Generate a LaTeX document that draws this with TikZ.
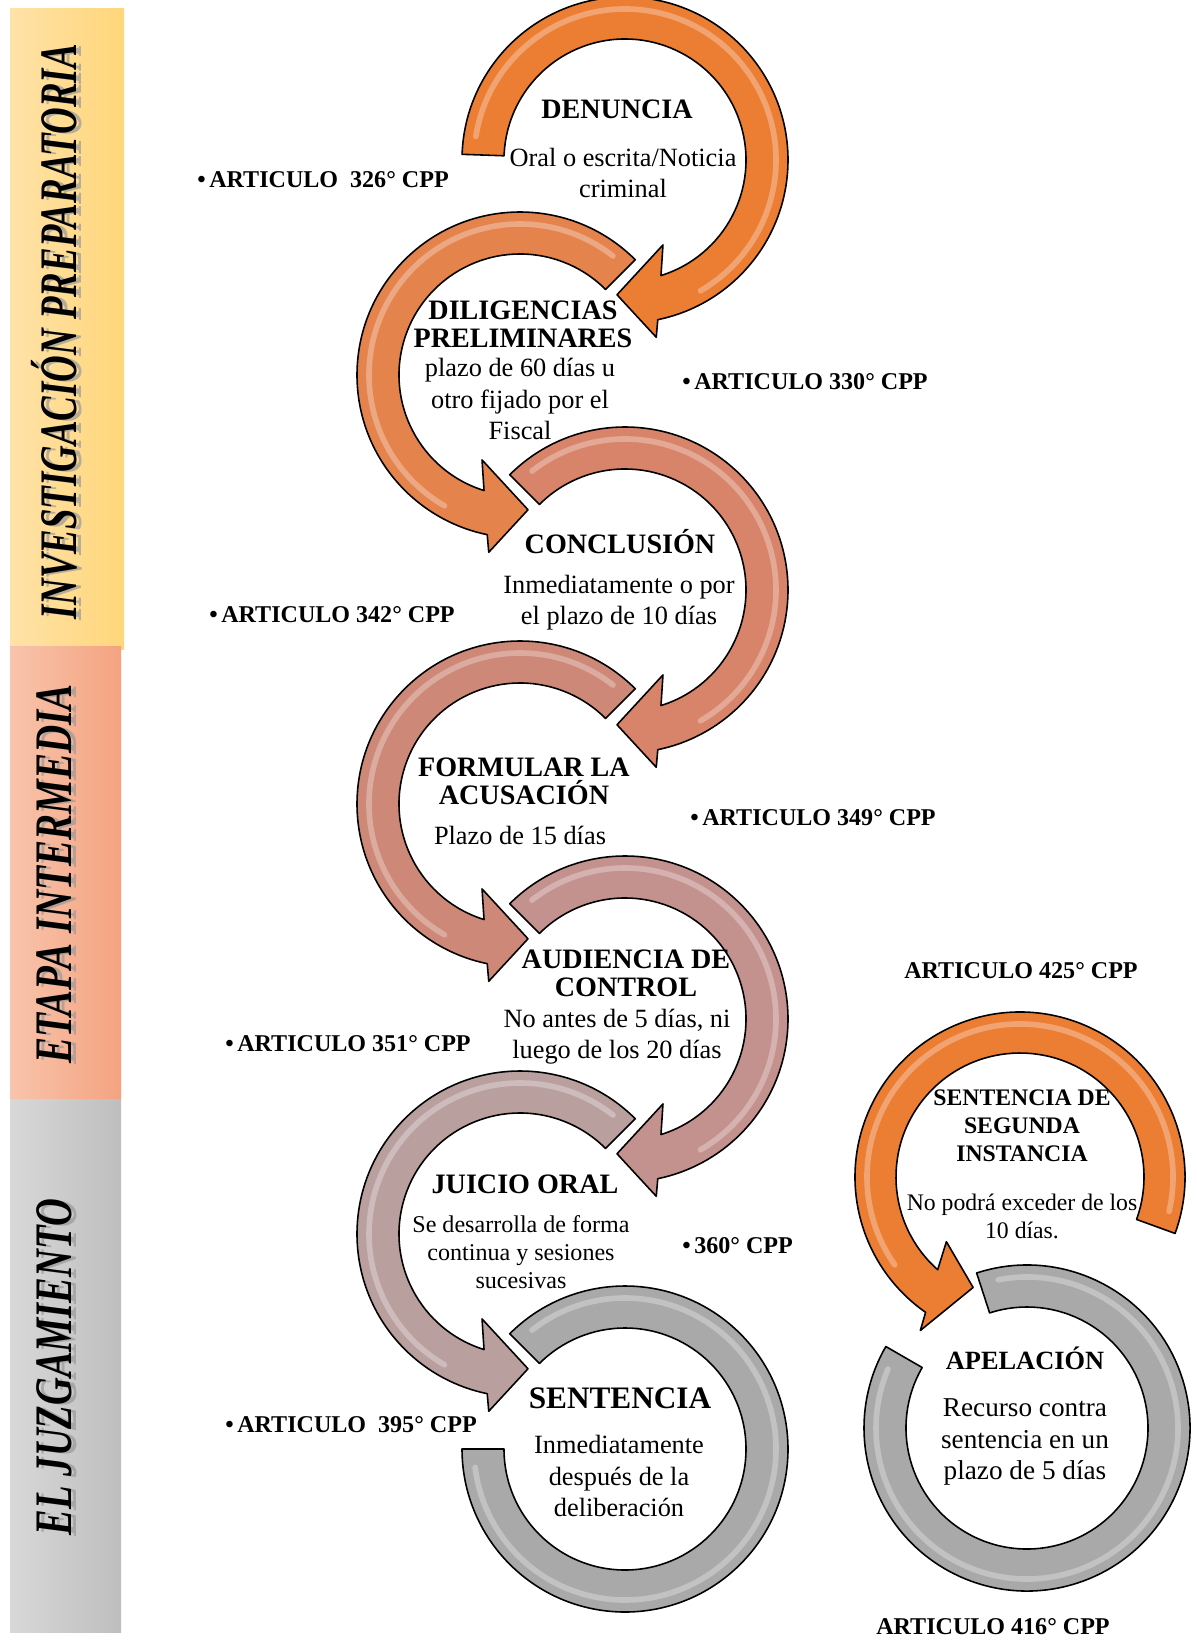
\documentclass[tikz,border=0pt]{standalone}
\usepackage{fontspec}
\setmainfont{Liberation Serif}
\usepackage{graphicx}
\usepackage{xcolor}
\usepackage{tikz}
\usetikzlibrary{calc}

\definecolor{ringA}{HTML}{EC7E34}
\definecolor{ringB}{HTML}{E4834C}
\definecolor{ringC}{HTML}{D8846A}
\definecolor{ringD}{HTML}{CD8877}
\definecolor{ringE}{HTML}{C4928E}
\definecolor{ringF}{HTML}{BA9F9F}
\definecolor{ringG}{HTML}{A9A9A9}
\definecolor{barYellowL}{HTML}{FFE2A8}
\definecolor{barYellowR}{HTML}{FFD67A}
\definecolor{barPinkL}{HTML}{F8C4AC}
\definecolor{barPinkR}{HTML}{F4A380}
\definecolor{barGrayL}{HTML}{D8D8D8}
\definecolor{barGrayR}{HTML}{BEBEBE}

% ring with arrow head, drawn round (0,0): #1 start angle, #2 fill
\newcommand{\ringarrow}[2]{%
  \draw[ringline,fill=#2] (#1:163) arc[start angle=#1,end angle=438.4,radius=163]
    -- (440:180) -- (453.4:135) -- (425.9:93) -- (432.7:121)
    arc[start angle=432.7,end angle=#1,radius=121] -- cycle;
  \draw[gloss] (#1+7:151) arc[start angle=#1+7,end angle=420,radius=151];
}
% plain ring: #1 start angle, #2 end angle, #3 fill
\newcommand{\ringplain}[3]{%
  \draw[ringline,fill=#3] (#1:163) arc[start angle=#1,end angle=#2,radius=163]
    -- (#2:121) arc[start angle=#2,end angle=#1,radius=121] -- cycle;
  \draw[gloss] (#1+7:151) arc[start angle=#1+7,end angle=#2-7,radius=151];
}

\begin{document}
\begin{tikzpicture}[
  x=0.02cm,y=-0.02cm,
  line join=round,
  ringline/.style={draw=black,line width=0.9pt},
  gloss/.style={white,opacity=0.3,line width=3.2pt,line cap=round},
  stagehead/.style={font=\fontsize{16}{15.8}\selectfont\bfseries,align=center,inner sep=0pt},
  stagebody/.style={font=\fontsize{15}{17.8}\selectfont,align=center,inner sep=0pt},
  smallbody/.style={font=\fontsize{13.7}{15.8}\selectfont,align=center,inner sep=0pt},
  artlabel/.style={font=\fontsize{13.7}{16}\selectfont\bfseries,inner sep=0pt},
  bartext/.style={rotate=90,font=\fontsize{30}{30}\selectfont\bfseries\itshape,inner sep=0pt}
]
\path[use as bounding box] (0,0) rectangle (1197,1640);

% phase bars
\shade[left color=barYellowL,right color=barYellowR] (10,8) rectangle (124,649);
\shade[left color=barPinkL,right color=barPinkR] (10,646) rectangle (121,1099);
\shade[left color=barGrayL,right color=barGrayR] (10,1099) rectangle (121,1632);

\node[bartext,text=black!40,opacity=0.7] (investShadow) at (59,333)
  {\scalebox{0.70}[1]{INVESTIGACIÓN PREPARATORIA}};
\node[bartext] (invest) at (54,332)
  {\scalebox{0.70}[1]{INVESTIGACIÓN PREPARATORIA}};
\node[bartext,text=black!40,opacity=0.7] (etapaShadow) at (59,875)
  {\scalebox{0.74}[1]{ETAPA INTERMEDIA}};
\node[bartext] (etapa) at (54,874)
  {\scalebox{0.74}[1]{ETAPA INTERMEDIA}};
\node[bartext,text=black!40,opacity=0.7] (juzgShadow) at (59,1368)
  {\scalebox{0.73}[1]{EL JUZGAMIENTO}};
\node[bartext] (juzg) at (54,1367)
  {\scalebox{0.73}[1]{EL JUZGAMIENTO}};

% main chain of circular arrows
\begin{scope}[shift={(625,160)}]
  \ringarrow{182}{ringA}
\end{scope}
\begin{scope}[shift={(520,375)},xscale=-1]
  \ringarrow{225}{ringB}
\end{scope}
\begin{scope}[shift={(625,590)}]
  \ringarrow{225}{ringC}
\end{scope}
\begin{scope}[shift={(520,804)},xscale=-1]
  \ringarrow{225}{ringD}
\end{scope}
\begin{scope}[shift={(625,1019)}]
  \ringarrow{225}{ringE}
\end{scope}
\begin{scope}[shift={(520,1234)},xscale=-1]
  \ringarrow{225}{ringF}
\end{scope}
\begin{scope}[shift={(625,1449)}]
  \ringplain{225}{540}{ringG}
\end{scope}

% appeal branch
\begin{scope}[shift={(1020,1177)}]
  \draw[ringline,fill=ringA] (20:165) arc[start angle=20,end angle=-235.1,radius=165]
    -- (-237:183) -- (-247:120) -- (-221.3:98) -- (-228.4:124)
    arc[start angle=-228.4,end angle=20,radius=124] -- cycle;
  \draw[gloss] (13:153) arc[start angle=13,end angle=-215,radius=153];
\end{scope}
\begin{scope}[shift={(1027,1428)}]
  \ringplain{-108}{210}{ringG}
\end{scope}

% stage texts
\node[stagehead] (denuncia) at (617,109) {DENUNCIA};
\node[stagebody] (denunciaTxt) at (623,173) {Oral o escrita/Noticia\\criminal};

\node[stagehead] (diligencias) at (523,324) {DILIGENCIAS\\PRELIMINARES};
\node[stagebody] (diligenciasTxt) at (520,399)
  {plazo de 60 días u\\otro fijado por el\\Fiscal};

\node[stagehead] (conclusion) at (620,542) {CONCLUSIÓN};
\node[stagebody] (conclusionTxt) at (619,603)
  {Inmediatamente o por\\el plazo de 10 días};

\node[stagehead] (acusacion) at (524,781) {FORMULAR LA\\ACUSACIÓN};
\node[stagebody] (acusacionTxt) at (520,835) {Plazo de 15 días};

\node[stagehead] (audiencia) at (626,973) {AUDIENCIA DE\\CONTROL};
\node[stagebody] (audienciaTxt) at (617,1037)
  {No antes de 5 días, ni\\luego de los 20 días};

\node[stagehead] (juicio) at (525,1184) {JUICIO ORAL};
\node[smallbody] (juicioTxt) at (521,1252)
  {Se desarrolla de forma\\continua y sesiones\\sucesivas};

\node[stagehead,font=\fontsize{17.8}{20}\selectfont\bfseries] (sentencia) at (620,1398)
  {SENTENCIA};
\node[stagebody] (sentenciaTxt) at (619,1476)
  {Inmediatamente\\después de la\\deliberación};

\node[stagehead,font=\fontsize{13.5}{16}\selectfont\bfseries] (segunda) at (1022,1126)
  {SENTENCIA DE\\SEGUNDA\\INSTANCIA};
\node[smallbody,font=\fontsize{13.5}{16}\selectfont] (segundaTxt) at (1022,1216)
  {No podrá exceder de los\\10 días.};

\node[stagehead,font=\fontsize{15}{17}\selectfont\bfseries] (apelacion) at (1025,1358)
  {APELACIÓN};
\node[stagebody,font=\fontsize{15.5}{17.9}\selectfont] (apelacionTxt) at (1025,1442)
  {Recurso contra\\sentencia en un\\plazo de 5 días};

% legal references
\node[artlabel,anchor=west] (art326) at (197,180) {•\hspace{2pt}ARTICULO\ \ 326° CPP};
\node[artlabel,anchor=west] (art330) at (682,382) {•\hspace{2pt}ARTICULO 330° CPP};
\node[artlabel,anchor=west] (art342) at (209,615) {•\hspace{2pt}ARTICULO 342° CPP};
\node[artlabel,anchor=west] (art349) at (690,818) {•\hspace{2pt}ARTICULO 349° CPP};
\node[artlabel,anchor=west] (art351) at (225,1044) {•\hspace{2pt}ARTICULO 351° CPP};
\node[artlabel,anchor=west] (art360) at (682,1246) {•\hspace{2pt}360° CPP};
\node[artlabel,anchor=west] (art395) at (225,1425) {•\hspace{2pt}ARTICULO\ \ 395° CPP};
\node[artlabel] (art425) at (1021,971) {ARTICULO 425° CPP};
\node[artlabel] (art416) at (993,1627) {ARTICULO 416° CPP};
\end{tikzpicture}
\end{document}
